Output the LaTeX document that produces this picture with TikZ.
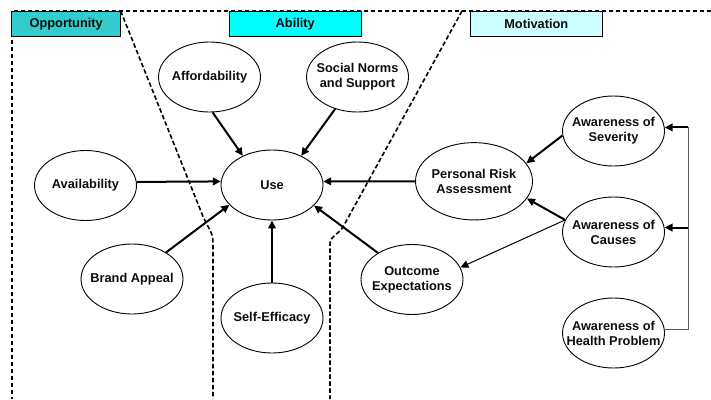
\documentclass[tikz,border=0pt]{standalone}
\usepackage{fontspec}
\setmainfont{Liberation Sans}
\usepackage{tikz}
\usetikzlibrary{arrows.meta,positioning,shapes}
\newcommand{\factorfont}{\fontsize{12.8}{15}\selectfont\bfseries}
\definecolor{opportunity}{HTML}{33CCCC}
\definecolor{ability}{HTML}{00FFFF}
\definecolor{motivation}{HTML}{CCFFFF}
\tikzset{
  factor/.style={ellipse,draw,line width=0.9pt,minimum width=102pt,minimum height=70pt,inner sep=0pt},
  header/.style={rectangle,draw,line width=0.9pt,minimum height=25.7pt,inner sep=0pt},
  region/.style={line width=1.6pt,dash pattern=on 4.5pt off 2.5pt},
  influence/.style={->,line width=2pt},
  feedback/.style={line width=1pt,black!65},
  model/.style={
    >={Triangle[length=8pt,width=7.5pt]},x=1pt,y=-1pt,node distance=101pt,
    every node/.style={font=\factorfont,text=black!95},
    every label/.style={align=center}
  }
}

\begin{document}
\begin{tikzpicture}[model]
  \useasboundingbox (0,0) rectangle (711,399);
  % the three regions
  \draw[region] (711,11) -- (11.7,11) -- (11.7,399);
  \draw[region] (120.7,11) -- (202,214) .. controls (208,229) and (213,231) .. (213,243) -- (213,399);
  \draw[region] (462,11) -- (343,227) .. controls (338,235) and (330,236) .. (330,244) -- (330,399);
  \node[header,fill=opportunity,minimum width=109pt] (opp) at (66.2,23.9) {Opportunity};
  \node[header,fill=ability,minimum width=132.7pt] (abl) at (295.3,23.9) {Ability};
  \node[header,fill=motivation,minimum width=132.7pt] (mot) at (536.3,23.9) {Motivation};
  % factors
  \node[factor,label=center:{Use}] (use) at (272,185) {};
  \node[factor,label=center:{Affordability}] (aff) at (209.5,77) {};
  \node[factor,label=center:{Social Norms\\and Support}] (soc) at (357.5,77) {};
  \node[factor,label=center:{Availability}] (avail) at (85.5,185.5) {};
  \node[factor,label=center:{Brand Appeal}] (brand) at (132,279) {};
  \node[factor,label=center:{Self-Efficacy},below of=use,node distance=133pt] (self) {};
  \node[factor,label=center:{Personal Risk\\Assessment},minimum width=117pt,minimum height=77.3pt] (pra) at (474,181.3) {};
  \node[factor,label=center:{Outcome\\Expectations}] (out) at (412,279.5) {};
  \node[factor,label=center:{Awareness of\\Severity}] (sev) at (613.5,131) {};
  \node[factor,label=center:{Awareness of\\Causes},below of=sev] (cau) {};
  \node[factor,label=center:{Awareness of\\Health Problem},below of=cau] (hp) {};
  % influences
  \draw[influence] (aff.275) -- (use.135);
  \draw[influence] (soc.235) -- (use.45);
  \draw[influence] (avail.4) -- (use.176);
  \draw[influence] (brand.38) -- (use.205);
  \draw[influence] (self) -- (use);
  \draw[influence] (pra.180) -- (use.4);
  \draw[influence] (out.142) -- (use.334);
  \draw[influence] (sev.185) -- (pra.19);
  \draw[influence] (cau.166) -- (pra.342);
  \draw[influence,line width=1pt] (cau.166) -- (out.14);
  \coordinate (rail) at (688,0);
  \draw[feedback] (hp.4) -- (hp.4 -| rail) -- (sev.4 -| rail);
  \draw[influence] (sev.4 -| rail) -- (sev.4);
  \draw[influence] (cau.5 -| rail) -- (cau.5);
\end{tikzpicture}
\end{document}
